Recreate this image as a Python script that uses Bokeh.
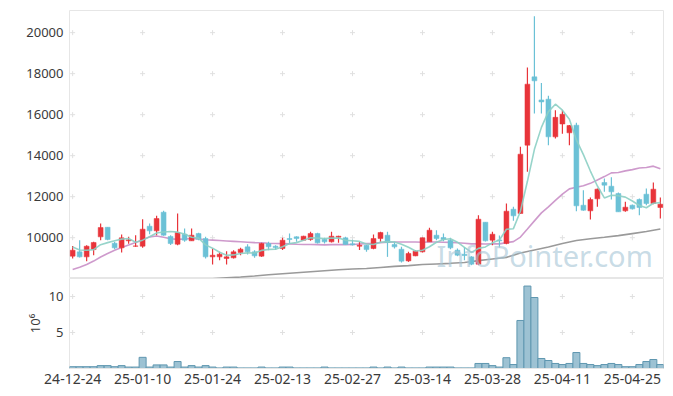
from bokeh.plotting import figure
from bokeh.models import Range1d, Label, FixedTicker, ColumnDataSource
from bokeh.layouts import column
from bokeh.embed import file_html
from bokeh.resources import INLINE

# ---------------- data ----------------
opens = [9100, 9310, 9065, 9420, 10040, 10510, 9730, 9504, 9846, 9585,
         9585, 10560, 10333, 11244, 10060, 9683, 10171, 9846, 10203, 9959,
         9065, 9065, 8984, 9016, 9276, 9553, 9309, 9098, 9716, 9585,
         9472, 9959, 10041, 9878, 9911, 10203, 9927, 9797, 10024, 9992,
         9700, 9585, 9634, 9472, 9959, 10122, 9667, 9439, 8870, 9114,
         9309, 9797, 10122, 10008, 9878, 9390, 9195, 9065, 8707, 10756,
         9878, 9890, 9716, 11390, 11179, 14512, 17845, 16720, 16756, 14918,
         15545, 15114, 15488, 11585, 11309, 11894, 12691, 12512, 12155, 11309,
         11585, 11862, 12122, 11667, 11472]
highs = [9600, 9880, 9635, 9800, 10690, 10510, 9800, 10155, 10040, 10120,
         10900, 10690, 11065, 11309, 10120, 11179, 10447, 10447, 10236, 10041,
         9472, 9309, 9341, 9390, 9504, 9683, 9390, 9748, 9797, 9634,
         9992, 10203, 10073, 10089, 10285, 10236, 9992, 10285, 10089, 10041,
         9900, 9797, 9640, 10154, 10285, 10285, 9797, 9553, 9309, 9390,
         10008, 10480, 10366, 10203, 9992, 9472, 9550, 9100, 11098, 10756,
         10285, 10110, 11667, 11504, 14431, 18301, 20805, 17550, 16918, 16220,
         16220, 15500, 15610, 12317, 11960, 12398, 12886, 12951, 12200, 11748,
         11618, 11910, 12398, 12691, 11960]
lows = [8980, 9030, 8855, 9145, 9880, 9880, 9440, 9276, 9700, 9553,
        9504, 10170, 10122, 10089, 9640, 9634, 9797, 9846, 9878, 8984,
        8691, 8902, 8691, 8984, 9146, 9179, 9016, 9065, 9390, 9406,
        9406, 9716, 9797, 9862, 9846, 9716, 9716, 9764, 9748, 9650,
        9620, 9406, 9309, 9439, 9797, 9065, 9472, 8789, 8821, 9098,
        9276, 9797, 9878, 9829, 9439, 9098, 8900, 8660, 8659, 9813,
        9634, 9520, 9683, 10821, 11150, 13211, 16057, 16057, 14512, 14837,
        15065, 14512, 11293, 11309, 10886, 11504, 12236, 11862, 11260, 11260,
        11374, 11098, 11585, 11634, 10935]
closes = [9390, 9065, 9585, 9764, 10496, 9911, 9504, 9992, 9894, 9600,
          10415, 10333, 10935, 10122, 9716, 10252, 9878, 10122, 9927, 9065,
          9146, 9195, 9065, 9309, 9439, 9309, 9114, 9716, 9553, 9520,
          9878, 9911, 9959, 10073, 10203, 9748, 9797, 10073, 10073, 9667,
          9650, 9634, 9420, 9959, 10252, 9764, 9553, 8854, 9228, 9341,
          9992, 10366, 9959, 9911, 9504, 9146, 9130, 8707, 10902, 9846,
          10171, 9846, 11293, 11065, 14073, 17488, 17650, 16620, 14918, 15870,
          16024, 15472, 11553, 11341, 11862, 12366, 12561, 12236, 11260, 11488,
          11406, 11472, 11667, 12366, 11634]
# volume in millions
volumes = [0.25, 0.25, 0.25, 0.25, 0.4, 0.4, 0.25, 0.4, 0.2, 0.2,
           1.55, 0.2, 0.5, 0.5, 0.2, 0.97, 0.2, 0.4, 0.2, 0.4,
           0.2, 0.08, 0.2, 0.2, 0.08, 0.08, 0.08, 0.2, 0.08, 0.08,
           0.2, 0.2, 0.08, 0.08, 0.08, 0.08, 0.2, 0.08, 0.08, 0.08,
           0.08, 0.08, 0.08, 0.2, 0.08, 0.2, 0.08, 0.2, 0.08, 0.08,
           0.08, 0.2, 0.2, 0.2, 0.2, 0.08, 0.08, 0.08, 0.7, 0.7,
           0.4, 0.2, 1.5, 0.55, 6.67, 11.45, 9.86, 1.39, 1.11, 0.7,
           0.55, 0.7, 2.22, 0.7, 0.55, 0.4, 0.55, 0.7, 0.55, 0.25,
           0.25, 0.55, 0.97, 1.25, 0.55]
ma5 = [9550, 9400, 9390, 9420, 9660, 9760, 9850, 9930, 9960, 9780,
       9880, 10050, 10230, 10280, 10300, 10270, 10180, 10020, 9980, 9650,
       9490, 9290, 9140, 9160, 9230, 9260, 9250, 9380, 9430, 9440,
       9560, 9720, 9760, 9870, 10000, 9980, 9960, 9980, 9980, 9870,
       9850, 9820, 9690, 9670, 9780, 9810, 9790, 9680, 9530, 9350,
       9390, 9560, 9780, 9910, 9950, 9780, 9530, 9280, 9480, 9550,
       9750, 9890, 10410, 10440, 11290, 12750, 14310, 15380, 16150, 16510,
       16220, 15780, 14770, 14050, 13250, 12520, 11940, 12070, 12050, 11980,
       11790, 11570, 11460, 11680, 11710]
ma20 = [8450, 8560, 8690, 8860, 9060, 9230, 9390, 9520, 9640, 9760,
        9900, 10040, 10080, 10020, 9950, 9920, 9940, 9960, 9940, 9900,
        9880, 9860, 9840, 9820, 9800, 9780, 9760, 9750, 9730, 9720,
        9710, 9700, 9680, 9670, 9670, 9660, 9650, 9660, 9660, 9660,
        9665, 9690, 9710, 9730, 9760, 9780, 9790, 9790, 9790, 9790,
        9780, 9790, 9790, 9780, 9770, 9750, 9730, 9700, 9700, 9690,
        9700, 9700, 9760, 9810, 10030, 10420, 10820, 11210, 11500, 11820,
        12120, 12380, 12460, 12530, 12650, 12810, 12980, 13160, 13180, 13260,
        13320, 13400, 13420, 13490, 13360]
ma_long_x = [19, 20, 22, 24, 26, 28, 30, 32, 34, 36, 38, 40, 42, 44, 46, 48, 50,
             52, 54, 56, 58, 60, 62, 64, 66, 68, 70, 72, 74, 76, 78, 80, 82, 84]
ma_long = [7980, 8000, 8040, 8080, 8130, 8190, 8240, 8290, 8340, 8390, 8440,
           8470, 8500, 8550, 8600, 8640, 8690, 8720, 8750, 8790, 8880, 8960,
           9040, 9250, 9400, 9550, 9720, 9860, 9950, 10020, 10100, 10200,
           10300, 10420]

tick_idx = [0, 10, 20, 30, 40, 50, 60, 70, 80]
tick_labels = ["24-12-24", "25-01-10", "25-01-24", "25-02-13", "25-02-27",
               "25-03-14", "25-03-28", "25-04-11", "25-04-25"]
price_ticks = [10000, 12000, 14000, 16000, 18000, 20000]
vol_ticks = [5, 10]

# ---------------- styling ----------------
FONT = "Noto Sans"
UP = "#e8343a"
DOWN = "#6bc1d6"
GRID = "#e0e0e0"
TXT = "#3a3a3a"

n = len(closes)
xs = list(range(n))
colors = [UP if c >= o else DOWN for o, c in zip(opens, closes)]
src = ColumnDataSource(dict(
    x=xs, o=opens, h=highs, l=lows, c=closes,
    top=[max(o, c) for o, c in zip(opens, closes)],
    bot=[min(o, c) for o, c in zip(opens, closes)],
    color=colors, vol=volumes))

xr = Range1d(-0.45, 84.45)

def style(p):
    p.grid.visible = False
    p.outline_line_color = "#e6e6e6"
    p.background_fill_color = "white"
    p.border_fill_color = "white"
    for ax in p.yaxis:
        ax.axis_line_color = None
        ax.major_tick_line_color = None
        ax.minor_tick_line_color = None
        ax.major_tick_out = 0
        ax.major_label_standoff = 6
        ax.major_label_text_font = FONT
        ax.major_label_text_font_size = "13px"
        ax.major_label_text_color = TXT

# ---------------- price pane ----------------
p1 = figure(width=665, height=278, x_range=xr, y_range=Range1d(8010, 21080),
            output_backend="svg", toolbar_location=None, x_axis_location=None,
            min_border=0, min_border_left=69, min_border_right=2, min_border_top=10)
style(p1)
p1.yaxis.ticker = FixedTicker(ticks=price_ticks)

gx = [t for t in tick_idx for _ in price_ticks]
gy = [v for _ in tick_idx for v in price_ticks]
p1.scatter(gx, gy, marker="cross", size=5, line_color=GRID, line_width=1)

p1.line(xs, ma20, line_color="#c98fc6", line_width=1.6, line_alpha=0.9)
p1.line(ma_long_x, ma_long, line_color="#9a9a9a", line_width=1.6)
p1.segment(x0="x", y0="h", x1="x", y1="l", line_color="color", line_width=1.2, source=src)
p1.vbar(x="x", width=0.7, top="top", bottom="bot", fill_color="color",
        line_color="color", line_width=0.5, source=src)
p1.line(xs, ma5, line_color="#8ccfc4", line_width=1.6, line_alpha=0.9)

wm = Label(x=52.0, y=9150, text="InfoPointer.com", text_font=FONT,
           text_font_size="29px", text_color="#a9c7d7", text_alpha=0.65,
           text_baseline="middle", text_align="left")
p1.add_layout(wm)

# ---------------- volume pane ----------------
p2 = figure(width=665, height=112, x_range=xr, y_range=Range1d(0, 12.5),
            output_backend="svg", toolbar_location=None,
            min_border=0, min_border_left=69, min_border_right=2, min_border_bottom=22)
style(p2)
p2.yaxis.ticker = FixedTicker(ticks=vol_ticks)
p2.yaxis.axis_label = "10⁶"
p2.yaxis.axis_label_text_font = FONT
p2.yaxis.axis_label_text_font_size = "13px"
p2.yaxis.axis_label_text_font_style = "normal"
p2.yaxis.axis_label_text_color = TXT
p2.yaxis.axis_label_standoff = 2
p2.xaxis.ticker = FixedTicker(ticks=tick_idx)
p2.xaxis.major_label_overrides = {t: lab for t, lab in zip(tick_idx, tick_labels)}
p2.xaxis.axis_line_color = "#e6e6e6"
p2.xaxis.major_tick_line_color = None
p2.xaxis.minor_tick_line_color = None
p2.xaxis.major_tick_out = 0
p2.xaxis.major_label_standoff = 5
p2.xaxis.major_label_text_font = FONT
p2.xaxis.major_label_text_font_size = "14px"
p2.xaxis.major_label_text_color = TXT

vgx = [t for t in tick_idx for _ in vol_ticks]
vgy = [v for _ in tick_idx for v in vol_ticks]
p2.scatter(vgx, vgy, marker="cross", size=5, line_color=GRID, line_width=1)
p2.vbar(x="x", width=1.0, top="vol", bottom=0, fill_color="#9dc2d3",
        line_color="#5f97b0", line_width=1, source=src)

layout = column(p1, p2, spacing=0)
open("out.html", "w").write(file_html(layout, INLINE))
